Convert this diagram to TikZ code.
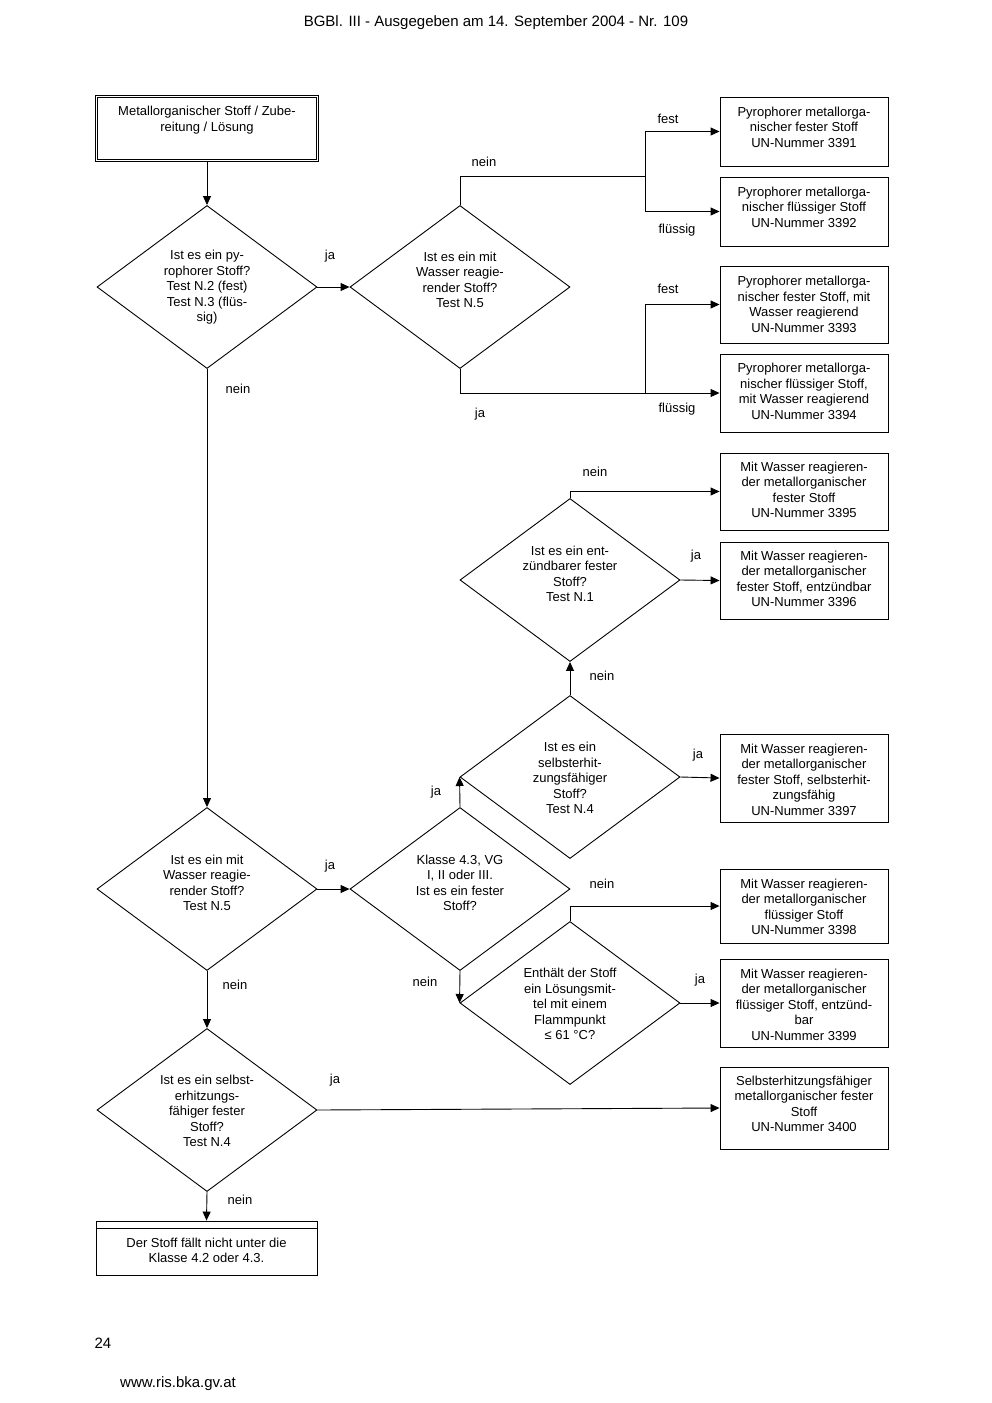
\documentclass[tikz,border=0pt]{standalone}
\usepackage{fontspec}
\setmainfont{Liberation Sans}
\usetikzlibrary{shapes.geometric,arrows.meta}
\begin{document}
\begin{tikzpicture}[x=1pt,y=-1pt,
    every node/.style={font=\fontsize{13}{15.5}\selectfont},
    dec/.style={diamond,draw,line width=0.9pt,inner sep=0pt,minimum width=220pt,minimum height=163pt},
    res/.style={rectangle,draw,line width=0.9pt,inner sep=0pt,minimum width=168pt},
    txt/.style={align=center,inner sep=0pt},
    lbl/.style={inner sep=0pt},
    pagetxt/.style={inner sep=0pt,font=\fontsize{15}{18}\selectfont},
    con/.style={line width=0.9pt},
    arr/.style={line width=0.9pt,-{Triangle[length=9pt,width=8pt]}}
    ]
    \useasboundingbox (0,0) rectangle (992,1403);

    % page text
    \node (head) at (496,23) [pagetxt] {BGBl. III - Ausgegeben am 14. September 2004 - Nr. 109};
    \node (page) at (103,1343) [pagetxt] {24};
    \node (web) at (178,1384) [pagetxt] {www.ris.bka.gv.at};

    % start and end
    \node (start) at (207,128.5) [rectangle,draw,double,double distance=1.6pt,line width=0.8pt,minimum width=221pt,minimum height=64pt] {};
    \node at (207,120) [txt] {Metallorganischer Stoff / Zube-\\reitung / Lösung};
    \node (fin) at (206.5,1248) [rectangle,draw,line width=0.9pt,minimum width=221pt,minimum height=54pt] {};
    \draw [con] (96,1228) -- (317,1228);
    \node at (206.5,1250.5) [txt] {Der Stoff fällt nicht unter die\\Klasse 4.2 oder 4.3.};

    % decisions
    \node (d1) at (207,287) [dec] {};
    \node at (207,287.5) [txt] {Ist es ein py-\\rophorer Stoff?\\Test N.2 (fest)\\Test N.3 (flüs-\\sig)};
    \node (d2) at (460,287) [dec] {};
    \node at (460,280) [txt] {Ist es ein mit\\Wasser reagie-\\render Stoff?\\Test N.5};
    \node (d3) at (570,580) [dec] {};
    \node at (570,574) [txt] {Ist es ein ent-\\zündbarer fester\\Stoff?\\Test N.1};
    \node (d4) at (570,777) [dec] {};
    \node at (570,778) [txt] {Ist es ein\\selbsterhit-\\zungsfähiger\\Stoff?\\Test N.4};
    \node (d5) at (207,889) [dec] {};
    \node at (207,883) [txt] {Ist es ein mit\\Wasser reagie-\\render Stoff?\\Test N.5};
    \node (d6) at (460,889) [dec] {};
    \node at (460,883) [txt] {Klasse 4.3, VG\\I, II oder III.\\Ist es ein fester\\Stoff?};
    \node (d7) at (570,1003) [dec] {};
    \node at (570,1004) [txt] {Enthält der Stoff\\ein Lösungsmit-\\tel mit einem\\Flammpunkt\\≤ 61 °C?};
    \node (d8) at (207,1110) [dec] {};
    \node at (207,1111) [txt] {Ist es ein selbst-\\erhitzungs-\\fähiger fester\\Stoff?\\Test N.4};

    % results
    \node (r3391) at (804,131.5) [res,minimum height=69pt] {};
    \node at (804,127) [txt] {Pyrophorer metallorga-\\nischer fester Stoff\\UN-Nummer 3391};
    \node (r3392) at (804,211.5) [res,minimum height=69pt] {};
    \node at (804,207) [txt] {Pyrophorer metallorga-\\nischer flüssiger Stoff\\UN-Nummer 3392};
    \node (r3393) at (804,304.5) [res,minimum height=77pt] {};
    \node at (804,304.5) [txt] {Pyrophorer metallorga-\\nischer fester Stoff, mit\\Wasser reagierend\\UN-Nummer 3393};
    \node (r3394) at (804,393) [res,minimum height=78pt] {};
    \node at (804,391.5) [txt] {Pyrophorer metallorga-\\nischer flüssiger Stoff,\\mit Wasser reagierend\\UN-Nummer 3394};
    \node (r3395) at (804,491.5) [res,minimum height=77pt] {};
    \node at (804,490) [txt] {Mit Wasser reagieren-\\der metallorganischer\\fester Stoff\\UN-Nummer 3395};
    \node (r3396) at (804,580.5) [res,minimum height=77pt] {};
    \node at (804,579) [txt] {Mit Wasser reagieren-\\der metallorganischer\\fester Stoff, entzündbar\\UN-Nummer 3396};
    \node (r3397) at (804,778) [res,minimum height=88pt] {};
    \node at (804,779.5) [txt] {Mit Wasser reagieren-\\der metallorganischer\\fester Stoff, selbsterhit-\\zungsfähig\\UN-Nummer 3397};
    \node (r3398) at (804,906) [res,minimum height=74pt] {};
    \node at (804,907) [txt] {Mit Wasser reagieren-\\der metallorganischer\\flüssiger Stoff\\UN-Nummer 3398};
    \node (r3399) at (804,1003) [res,minimum height=88pt] {};
    \node at (804,1004.5) [txt] {Mit Wasser reagieren-\\der metallorganischer\\flüssiger Stoff, entzünd-\\bar\\UN-Nummer 3399};
    \node (r3400) at (804,1108) [res,minimum height=82pt] {};
    \node at (804,1104) [txt] {Selbsterhitzungsfähiger\\metallorganischer fester\\Stoff\\UN-Nummer 3400};

    % junctions
    \coordinate (j1) at (645,176);
    \coordinate (j2) at (645,393);

    % connectors
    \draw [arr] (start.south) -- (d1.north);
    \draw [arr] (d1.east) -- (d2.west);
    \draw [con] (d2.north) |- (j1);
    \draw [arr] (j1) |- (r3391.west);
    \draw [arr] (j1) |- (r3392.west);
    \draw [con] (d2.south) |- (j2);
    \draw [arr] (j2) |- (r3393.west);
    \draw [arr] (j2) -- (r3394.west);
    \draw [arr] (d1.south) -- (d5.north);
    \draw [arr] (d5.east) -- (d6.west);
    \draw [arr] (d6.north) -- (d4.west);
    \draw [arr] (d4.north) -- (d3.south);
    \draw [arr] (d3.north) |- (r3395.west);
    \draw [arr] (d3.east) -- (r3396.west);
    \draw [arr] (d4.east) -- (r3397.west);
    \draw [arr] (d6.south) -- (d7.west);
    \draw [arr] (d7.north) |- (r3398.west);
    \draw [arr] (d7.east) -- (r3399.west);
    \draw [arr] (d5.south) -- (d8.north);
    \draw [arr] (d8.east) -- (r3400.west);
    \draw [arr] (d8.south) -- (fin.north);

    % labels
    \node [lbl] at (330,256) {ja};
    \node [lbl] at (484,162) {nein};
    \node [lbl] at (668,119) {fest};
    \node [lbl] at (677,230) {flüssig};
    \node [lbl] at (668,289) {fest};
    \node [lbl] at (677,409) {flüssig};
    \node [lbl] at (480,414) {ja};
    \node [lbl] at (238,389) {nein};
    \node [lbl] at (595,472) {nein};
    \node [lbl] at (696,556) {ja};
    \node [lbl] at (602,676) {nein};
    \node [lbl] at (698,755) {ja};
    \node [lbl] at (436,792) {ja};
    \node [lbl] at (330,866) {ja};
    \node [lbl] at (602,884) {nein};
    \node [lbl] at (425,982) {nein};
    \node [lbl] at (700,980) {ja};
    \node [lbl] at (235,985) {nein};
    \node [lbl] at (335,1080) {ja};
    \node [lbl] at (240,1200) {nein};

  \end{tikzpicture}
\end{document}
